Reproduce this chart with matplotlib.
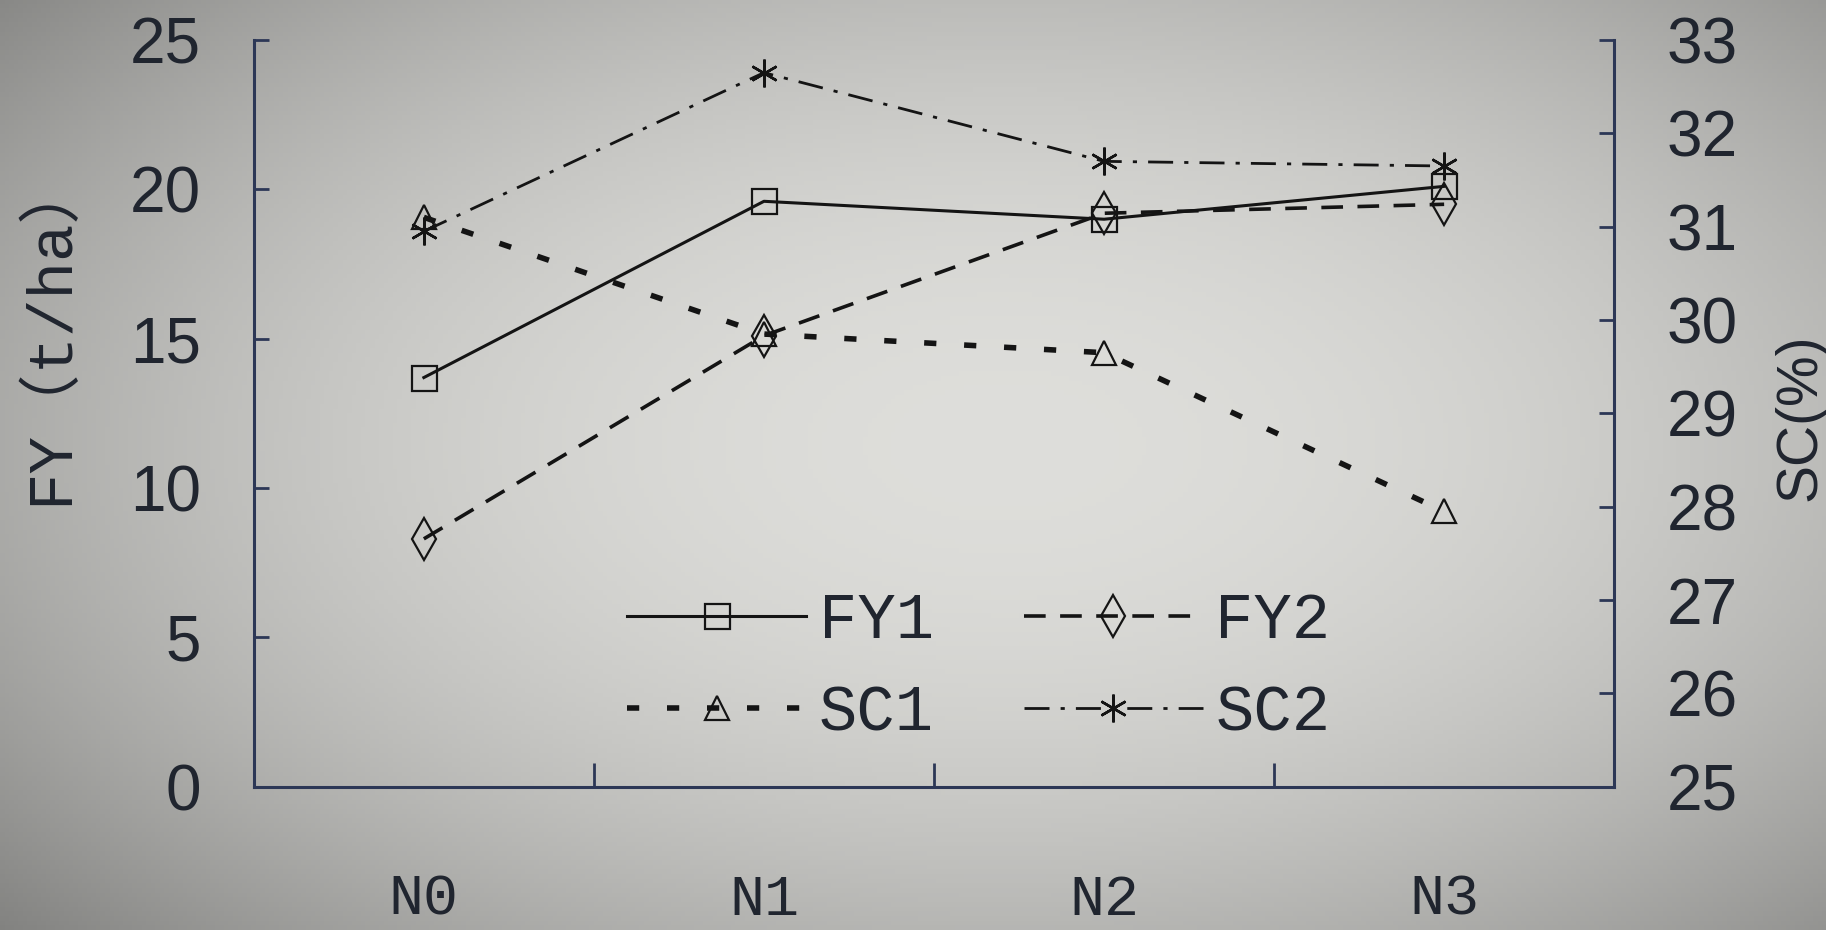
import numpy as np
import matplotlib.pyplot as plt
from matplotlib.ticker import FixedLocator, NullFormatter, FixedFormatter

# nitrogen levels
levels = ["N0", "N1", "N2", "N3"]

# fresh yield, t/ha (left axis)
fy1 = [13.7, 19.6, 19.0, 20.1]
fy2 = [8.3, 15.1, 19.2, 19.5]

# sugar content, % (right axis)
sc1 = [31.1, 29.85, 29.65, 27.95]
sc2 = [30.95, 32.65, 31.7, 31.65]

fy_ticks = [0, 5, 10, 15, 20, 25]
sc_ticks = [25, 26, 27, 28, 29, 30, 31, 32, 33]

num_font = ["Liberation Sans Narrow", "Liberation Sans", "DejaVu Sans"]
mono_font = ["Liberation Mono", "Noto Sans CJK SC", "DejaVu Sans"]
ink = "#20252f"
axis_col = "#2c3756"
line_col = "#141414"

fig = plt.figure(figsize=(18.26, 9.3), dpi=100)

# greyish backdrop, brighter in the middle and darker towards the corners
bg = fig.add_axes([0, 0, 1, 1], zorder=-10)
gx, gy = np.meshgrid(np.linspace(0, 1, 400), np.linspace(0, 1, 200))
shade = 222 - 95 * (((gx - 0.55) / 0.75) ** 2 + ((gy - 0.52) / 0.8) ** 2)
shade = np.clip(shade, 120, 225) / 255.0
rgb = np.dstack([shade, shade, shade * 0.985])
bg.imshow(rgb, aspect="auto", extent=[0, 1, 0, 1], origin="lower")
bg.axis("off")

ax = fig.add_axes([0.139, 0.154, 0.745, 0.803])
ax.set_facecolor("none")
ax2 = ax.twinx()
ax2.set_facecolor("none")

x = np.arange(len(levels))

h_fy1, = ax.plot(x, fy1, color=line_col, lw=2.2, linestyle="-",
                 marker="s", ms=18, mfc="none", mec=line_col, mew=1.6,
                 label="FY1")
h_fy2, = ax.plot(x, fy2, color=line_col, lw=2.6, linestyle=(0, (6, 4)),
                 marker="d", ms=21, mfc="none", mec=line_col, mew=1.6,
                 label="FY2")
h_sc1, = ax2.plot(x, sc1, color=line_col, lw=4.0, linestyle=(0, (2.2, 5)),
                  marker="^", ms=17, mfc="none", mec=line_col, mew=1.6,
                  label="SC1")
h_sc2, = ax2.plot(x, sc2, color=line_col, lw=2.0, linestyle=(0, (9, 4, 1.5, 4)),
                  marker=(6, 2, 0), ms=20, mec=line_col, mew=1.8,
                  label="SC2")

ax.set_xlim(-0.5, 3.5)
ax.set_ylim(0, 25)
ax2.set_ylim(25, 33)

# ticks sit between the levels, labels at the levels
ax.xaxis.set_major_locator(FixedLocator([0.5, 1.5, 2.5]))
ax.xaxis.set_major_formatter(NullFormatter())
ax.xaxis.set_minor_locator(FixedLocator(x))
ax.xaxis.set_minor_formatter(FixedFormatter(levels))
ax.tick_params(axis="x", which="major", direction="in", length=17,
               width=2, color=axis_col)
ax.tick_params(axis="x", which="minor", length=0, pad=62,
               labelsize=42, labelcolor=ink)
for lab in ax.get_xticklabels(minor=True):
    lab.set_family(mono_font)

ax.set_yticks(fy_ticks)
ax.tick_params(axis="y", direction="in", length=11, width=2, color=axis_col,
               pad=38, labelsize=46, labelcolor=ink)
ax2.set_yticks(sc_ticks)
ax2.tick_params(axis="y", direction="in", length=11, width=2, color=axis_col,
                pad=38, labelsize=46, labelcolor=ink)
for lab in ax.get_yticklabels() + ax2.get_yticklabels():
    lab.set_family(num_font)

for s in ["top", "right"]:
    ax.spines[s].set_visible(False)
for s in ["top", "left", "bottom"]:
    ax2.spines[s].set_visible(False)
for sp in [ax.spines["left"], ax.spines["bottom"], ax2.spines["right"]]:
    sp.set_color(axis_col)
    sp.set_linewidth(2.2)

ax.set_ylabel("FY（t/ha）", fontsize=45, color=ink, family=mono_font)
ax.yaxis.set_label_coords(-0.128, 0.612)
ax2.set_ylabel("SC(%)", fontsize=41, color=ink, family=num_font)
ax2.yaxis.set_label_coords(1.117, 0.495)

leg = ax2.legend(handles=[h_fy1, h_sc1, h_fy2, h_sc2], ncol=2,
                 loc="center", bbox_to_anchor=(0.533, 0.16), frameon=False,
                 handlelength=2.8, columnspacing=1.4, labelspacing=0.5,
                 handletextpad=0.2, prop={"family": mono_font, "size": 46})
for t in leg.get_texts():
    t.set_color(ink)

fig.savefig("out.png", dpi=100)
